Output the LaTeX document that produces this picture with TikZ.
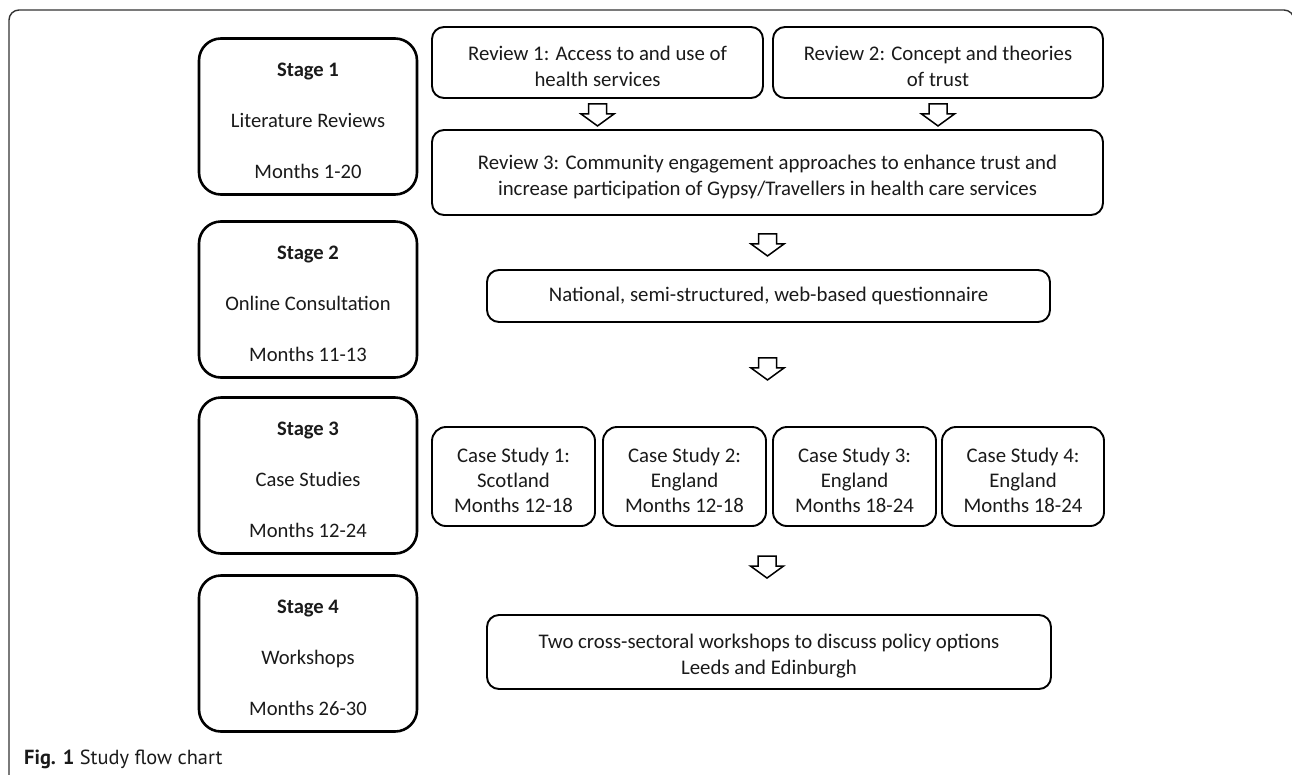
\documentclass[tikz,border=0pt]{standalone}
\usepackage{fontspec}
\setmainfont{Carlito}
\newfontfamily\capfont{PT Sans}
\usetikzlibrary{calc}
\definecolor{ink}{HTML}{1A1A1A}
\definecolor{framec}{HTML}{333333}
\newcommand\tstrut{\rule{0pt}{23pt}}
\tikzset{
  stagebox/.style={draw=black, line width=2.6pt, rounded corners=22pt,
    minimum width=218pt, minimum height=156pt, align=center, inner sep=0pt,
    text=ink, font=\fontsize{20.6}{51}\selectfont},
  revbox/.style={draw=black, line width=1.9pt, rounded corners=12pt,
    align=center, inner sep=0pt, text=ink, font=\fontsize{20.8}{26}\selectfont},
  casebox/.style={revbox, rounded corners=14pt, minimum width=162pt, minimum height=99pt,
    font=\fontsize{20.8}{25}\selectfont},
  framebox/.style={draw=framec, line width=1.4pt, rounded corners=10pt},
  blockarrow/.pic={\draw[line width=1.5pt, fill=white, line join=miter]
    (-9,0) -- (9,0) -- (9,10) -- (16.5,10) -- (0,22) -- (-16.5,10) -- (-9,10) -- cycle;}
}
\begin{document}
\begin{tikzpicture}[x=1pt,y=-1pt]
\useasboundingbox (0,0) rectangle (1292,774);
\clip (0,0) rectangle (1292,774);
\fill[white] (0,0) rectangle (1292,774);
% outer frame
\draw[framebox] (9,800) -- (9,10) -- (1294,10) -- (1294,800);

% stage boxes
\node[stagebox] (s1) at (308,116.5) {\tstrut\textbf{Stage 1}\\Literature Reviews\\Months 1-20};
\node[stagebox] (s2) at (308,299.5) {\tstrut\textbf{Stage 2}\\Online Consultation\\Months 11-13};
\node[stagebox] (s3) at (308,475.5) {\tstrut\textbf{Stage 3}\\Case Studies\\Months 12-24};
\node[stagebox] (s4) at (308,653.5) {\tstrut\textbf{Stage 4}\\Workshops\\Months 26-30};

% reviews
\node[revbox, minimum width=331pt, minimum height=71pt] (r1) at (597.5,62.5)
  {\tstrut Review 1: Access to and use of\\health services};
\node[revbox, minimum width=330pt, minimum height=71pt] (r2) at (938,62.5)
  {\tstrut Review 2: Concept and theories\\of trust};
\node[revbox, minimum width=671pt, minimum height=85pt] (r3) at (767.5,172.5)
  {\tstrut Review 3: Community engagement approaches to enhance trust and\\increase participation of Gypsy/Travellers in health care services};

% stage 2
\node[revbox, minimum width=563pt, minimum height=52pt] (q) at (768.5,296)
  {National, semi-structured, web-based questionnaire};

% case studies
\node[casebox, minimum width=163pt] (c1) at (513.5,476.5) {\tstrut Case Study 1:\\Scotland\\Months 12-18};
\node[casebox, minimum width=163pt] (c2) at (684.5,476.5) {\tstrut Case Study 2:\\England\\Months 12-18};
\node[casebox, minimum width=163pt] (c3) at (854.5,476.5) {\tstrut Case Study 3:\\England\\Months 18-24};
\node[casebox, minimum width=162pt] (c4) at (1023,476.5) {\tstrut Case Study 4:\\England\\Months 18-24};

% stage 4
\node[revbox, minimum width=564pt, minimum height=74pt] (w) at (769,652)
  {\tstrut Two cross-sectoral workshops to discuss policy options\\Leeds and Edinburgh};

% block arrows
\pic at ($(r1.south)+(0,5)$) {blockarrow};
\pic at ($(r2.south)+(0,5)$) {blockarrow};
\pic at ($(r3.south)+(0,18)$) {blockarrow};
\pic at ($(q.south)+(-1,35)$) {blockarrow};
\pic at ($(w.north)+(-2,-58)$) {blockarrow};

% caption
\node[anchor=west, inner sep=0pt, text=ink, font=\capfont\fontsize{20.4}{22}\selectfont] (cap) at (24,759)
  {\textbf{Fig. 1} Study flow chart};
\end{tikzpicture}
\end{document}
